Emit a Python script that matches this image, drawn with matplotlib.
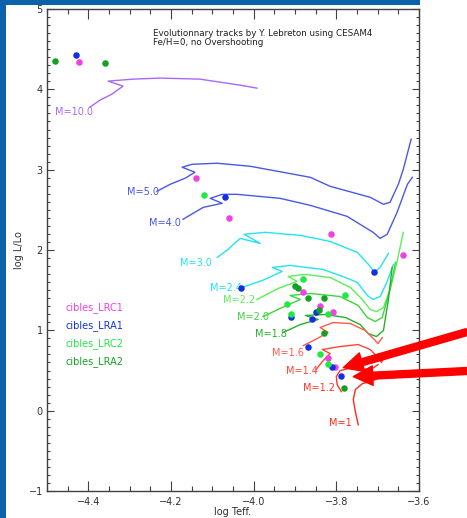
import numpy as np
import matplotlib
matplotlib.use("Agg")
import matplotlib.pyplot as plt
from matplotlib.patches import Rectangle

# Evolutionary tracks (log Teff shown negated, log L/Lo)
tracks = {
    "M=10.0": ([-4.396, -4.372, -4.343, -4.316, -4.352, -4.292, -4.226, -4.130, -4.033, -3.992],
               [3.778, 3.865, 3.940, 4.040, 4.102, 4.127, 4.140, 4.127, 4.052, 4.015]),
    "M=5.0": ([-4.234, -4.202, -4.166, -4.142, -4.173, -4.149, -4.088, -4.008, -3.863, -3.815,
               -3.718, -3.686, -3.670, -3.650, -3.638, -3.619],
              [2.731, 2.818, 2.893, 2.968, 3.030, 3.067, 3.080, 3.042, 2.905, 2.793,
               2.656, 2.569, 2.594, 2.818, 3.005, 3.379]),
    "M=4.0": ([-4.171, -4.122, -4.076, -4.105, -4.076, -4.040, -3.936, -3.863, -3.774, -3.711,
               -3.694, -3.677, -3.653, -3.628, -3.616],
              [2.382, 2.531, 2.581, 2.643, 2.693, 2.693, 2.643, 2.556, 2.419, 2.220,
               2.145, 2.195, 2.469, 2.818, 2.905]),
    "M=3.0": ([-4.088, -4.062, -4.033, -3.984, -4.023, -3.972, -3.887, -3.815, -3.749, -3.718,
               -3.708, -3.694, -3.674],
              [1.908, 2.007, 2.145, 2.082, 2.195, 2.220, 2.182, 2.107, 1.970, 1.796,
               1.721, 1.783, 1.958]),
    "M=2.4": ([-4.028, -3.979, -3.931, -3.955, -3.912, -3.832, -3.778, -3.749, -3.725, -3.711,
               -3.694, -3.677, -3.662],
              [1.534, 1.621, 1.733, 1.783, 1.808, 1.758, 1.658, 1.596, 1.434, 1.384,
               1.421, 1.608, 1.820]),
    "M=2.2": ([-3.992, -3.941, -3.895, -3.916, -3.875, -3.815, -3.766, -3.737, -3.718, -3.703,
               -3.686, -3.670, -3.653, -3.638],
              [1.384, 1.521, 1.608, 1.671, 1.696, 1.658, 1.534, 1.384, 1.259, 1.234,
               1.284, 1.509, 1.858, 2.220]),
    "M=2.0": ([-3.977, -3.936, -3.887, -3.912, -3.863, -3.791, -3.747, -3.725, -3.706, -3.689,
               -3.670, -3.657],
              [1.172, 1.272, 1.384, 1.434, 1.459, 1.421, 1.309, 1.160, 1.110, 1.160,
               1.509, 1.845]),
    "M=1.8": ([-3.929, -3.887, -3.844, -3.875, -3.827, -3.778, -3.742, -3.723, -3.703, -3.686,
               -3.674, -3.665],
              [0.973, 1.072, 1.135, 1.185, 1.197, 1.160, 1.072, 0.960, 0.923, 0.998,
               1.384, 1.783]),
    "M=1.6": ([-3.880, -3.851, -3.820, -3.839, -3.808, -3.766, -3.730, -3.708, -3.699, -3.689],
              [0.810, 0.885, 0.973, 1.035, 1.097, 1.085, 0.998, 0.885, 0.835, 0.910]),
    "M=1.4": ([-3.849, -3.834, -3.815, -3.834, -3.791, -3.747, -3.718, -3.699, -3.691, -3.684],
              [0.511, 0.611, 0.711, 0.761, 0.798, 0.823, 0.761, 0.661, 0.599, 0.661]),
    "M=1.2": ([-3.788, -3.798, -3.800, -3.791, -3.771, -3.742, -3.713, -3.699],
              [0.237, 0.324, 0.424, 0.499, 0.524, 0.511, 0.524, 0.574]),
    "M=1": ([-3.747, -3.754, -3.759, -3.754, -3.737, -3.711, -3.694, -3.686],
            [-0.175, -0.012, 0.137, 0.262, 0.337, 0.374, 0.411, 0.486]),
}
track_colors = {
    "M=10.0": "#a968f5", "M=5.0": "#4a58e6", "M=4.0": "#4a58e6",
    "M=3.0": "#22e4f2", "M=2.4": "#22e4f2",
    "M=2.2": "#5cee5c", "M=2.0": "#38d838", "M=1.8": "#26b026",
    "M=1.6": "#ff5a48", "M=1.4": "#ff4434", "M=1.2": "#ff3424", "M=1": "#ff2a18",
}
# label anchor (left edge, centre) for each track
label_x = [-4.481, -4.306, -4.253, -4.178, -4.105, -4.074, -4.040, -3.996, -3.955, -3.921, -3.880, -3.817]
label_y = [3.716, 2.718, 2.332, 1.833, 1.521, 1.372, 1.172, 0.960, 0.723, 0.499, 0.287, -0.150]

# target stars
lrc1_x = [-4.423, -4.139, -4.059, -3.812, -3.638, -3.880, -3.839, -3.808, -3.820, -3.803]
lrc1_y = [4.339, 2.893, 2.394, 2.195, 1.933, 1.471, 1.297, 1.222, 0.661, 0.549]
lra1_x = [-4.430, -4.069, -3.708, -4.030, -3.849, -3.909, -3.858, -3.868, -3.810, -3.788]
lra1_y = [4.426, 2.656, 1.721, 1.521, 1.222, 1.172, 1.147, 0.798, 0.549, 0.436]
lrc2_x = [-4.120, -3.880, -3.778, -3.919, -3.909, -3.820, -3.839, -3.820]
lrc2_y = [2.681, 1.633, 1.434, 1.334, 1.209, 1.209, 0.711, 0.586]
lra2_x = [-4.481, -4.360, -3.900, -3.892, -3.868, -3.829, -3.841, -3.829, -3.781]
lra2_y = [4.352, 4.327, 1.546, 1.521, 1.397, 1.397, 1.259, 0.973, 0.287]

groups = [
    ("cibles_LRC1", lrc1_x, lrc1_y, "#f040e6"),
    ("cibles_LRA1", lra1_x, lra1_y, "#1030e6"),
    ("cibles_LRC2", lrc2_x, lrc2_y, "#22e844"),
    ("cibles_LRA2", lra2_x, lra2_y, "#12a222"),
]

# arrow tips (data) pointing to the two targets
arrow_tip_x = [-3.783, -3.759]
arrow_tip_y = [0.536, 0.424]

fig = plt.figure(figsize=(4.67, 5.18), dpi=100, facecolor="white")
# slide border
fig.patches.append(Rectangle((0, 0), 6 / 467, 1, transform=fig.transFigure,
                             facecolor="#0a62aa", edgecolor="none"))
fig.patches.append(Rectangle((0, 1 - 5 / 518), 420 / 467, 5 / 518, transform=fig.transFigure,
                             facecolor="#0a62aa", edgecolor="none"))

ax = fig.add_axes([47 / 467, 27 / 518, 372 / 467, 482 / 518])
ax.set_xlim(-4.5, -3.6)
ax.set_ylim(-1, 5)

for (name, (tx, ty)), lx, ly in zip(tracks.items(), label_x, label_y):
    ax.plot(tx, ty, color=track_colors[name], lw=1.0)
    ax.text(lx, ly, name, color=track_colors[name], fontsize=7, ha="left", va="center")

legend_y = [1.284, 1.060, 0.835, 0.611]
for (name, gx, gy, col), yy in zip(groups, legend_y):
    ax.scatter(gx, gy, s=22, color=col, zorder=3, linewidths=0)
    ax.text(-4.456, yy, name, color=col, fontsize=7, ha="left", va="center")

ax.text(-4.243, 4.645, "Evolutionnary tracks by Y. Lebreton using CESAM4\nFe/H=0, no Overshooting",
        fontsize=6.3, ha="left", va="center", color="#202020", linespacing=1.0)

ax.set_xticks([-4.4, -4.2, -4.0, -3.8, -3.6])
ax.set_xticklabels(["\u22124.4", "\u22124.2", "\u22124.0", "\u22123.8", "\u22123.6"])
ax.set_xticks(np.arange(-4.5, -3.59, 0.05), minor=True)
ax.set_yticks([-1, 0, 1, 2, 3, 4, 5])
ax.set_yticklabels(["\u22121", "0", "1", "2", "3", "4", "5"])
ax.set_yticks(np.arange(-1, 5.01, 0.1), minor=True)
ax.tick_params(which="both", direction="in", top=True, right=True, color="#404040",
               labelsize=7, labelcolor="#303030", width=0.8)
ax.tick_params(axis="x", which="major", length=7, pad=4)
ax.tick_params(axis="x", which="minor", length=3.5)
ax.tick_params(axis="y", which="major", length=5, pad=3)
ax.tick_params(axis="y", which="minor", length=2.5)
for sp in ax.spines.values():
    sp.set_color("#404040")
    sp.set_linewidth(1.0)

ax.set_xlabel("log Teff.", fontsize=7, color="#303030", labelpad=0)
ax.set_ylabel("log L/Lo", fontsize=7, color="#303030", labelpad=3)

# red arrows coming from outside the frame
starts = [(467, 186), (467, 147)]
for tx, ty, st in zip(arrow_tip_x, arrow_tip_y, starts):
    ax.annotate("", xy=(tx, ty), xytext=st, textcoords="figure pixels",
                arrowprops=dict(facecolor="#ff0000", edgecolor="#ff0000", width=5,
                                headwidth=14, headlength=14, shrink=0),
                annotation_clip=False, zorder=5)

fig.savefig("out.png", dpi=100, facecolor="white")
